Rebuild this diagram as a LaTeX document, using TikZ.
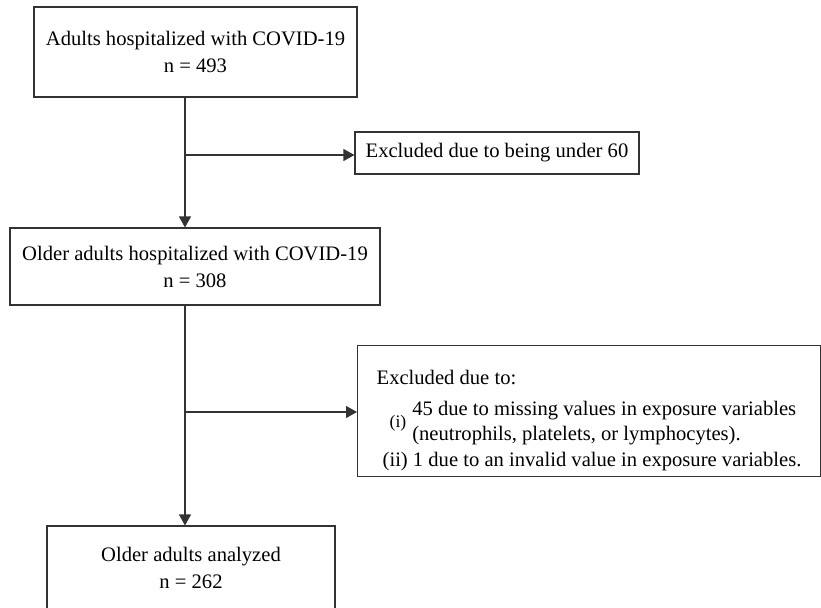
\documentclass[tikz,border=0pt]{standalone}
\usepackage{fontspec}
\setmainfont{Liberation Serif}
\usetikzlibrary{arrows.meta}
\tikzset{box/.style={draw=black!80, line width=.55pt, inner sep=0pt, align=center, font=\fontsize{10.3}{13.5}\selectfont}}
\tikzset{flow/.style={draw=black!80, line width=.55pt, -{Triangle[length=5.5pt,width=6pt]}}}

\begin{document}
\begin{tikzpicture}[x=.5pt,y=-.5pt]
  \useasboundingbox (0,0) rectangle (821,607);
  \node[box, minimum width=161.5pt, minimum height=45pt] (adults) at (195.5,52) {Adults hospitalized with COVID-19\\n = 493};
  \node[box, minimum width=185pt, minimum height=38.5pt] (older) at (195,266.5) {Older adults hospitalized with COVID-19\\n = 308};
  \node[box, minimum width=144pt, minimum height=41.5pt] (analyzed) at (191,567.5) {Older adults analyzed\\n = 262};
  \node[box, minimum width=142pt, minimum height=21pt] (under60) at (497,153) {Excluded due to being under 60};
  \node[box, anchor=north west, align=left, minimum width=231.5pt, inner xsep=7pt] (missing) at (357,345) {%
    \rule{0pt}{19.5pt}Excluded due to:\\[5.5pt]
    \hspace*{6.5pt}{\fontsize{8.8}{10}\selectfont (i)}\hspace{3pt}\renewcommand\arraystretch{0.93}\begin{tabular}[c]{@{}l@{}}45 due to missing values in exposure variables\\(neutrophils, platelets, or lymphocytes).\end{tabular}\\[1pt]
    \hspace*{3pt}(ii) 1 due to an invalid value in exposure variables.\rule[-5pt]{0pt}{5pt}};
  % main line
  \coordinate (spine) at (185,0);
  \coordinate (split1) at (185,155);
  \coordinate (split2) at (185,412);
  \draw[flow] (adults.south -| spine) -- (older.north -| spine);
  \draw[flow] (older.south -| spine) -- (analyzed.north -| spine);
  % exclusions
  \draw[flow] (split1) -- (split1 -| under60.west);
  \draw[flow] (split2) -- (split2 -| missing.west);
\end{tikzpicture}
\end{document}
